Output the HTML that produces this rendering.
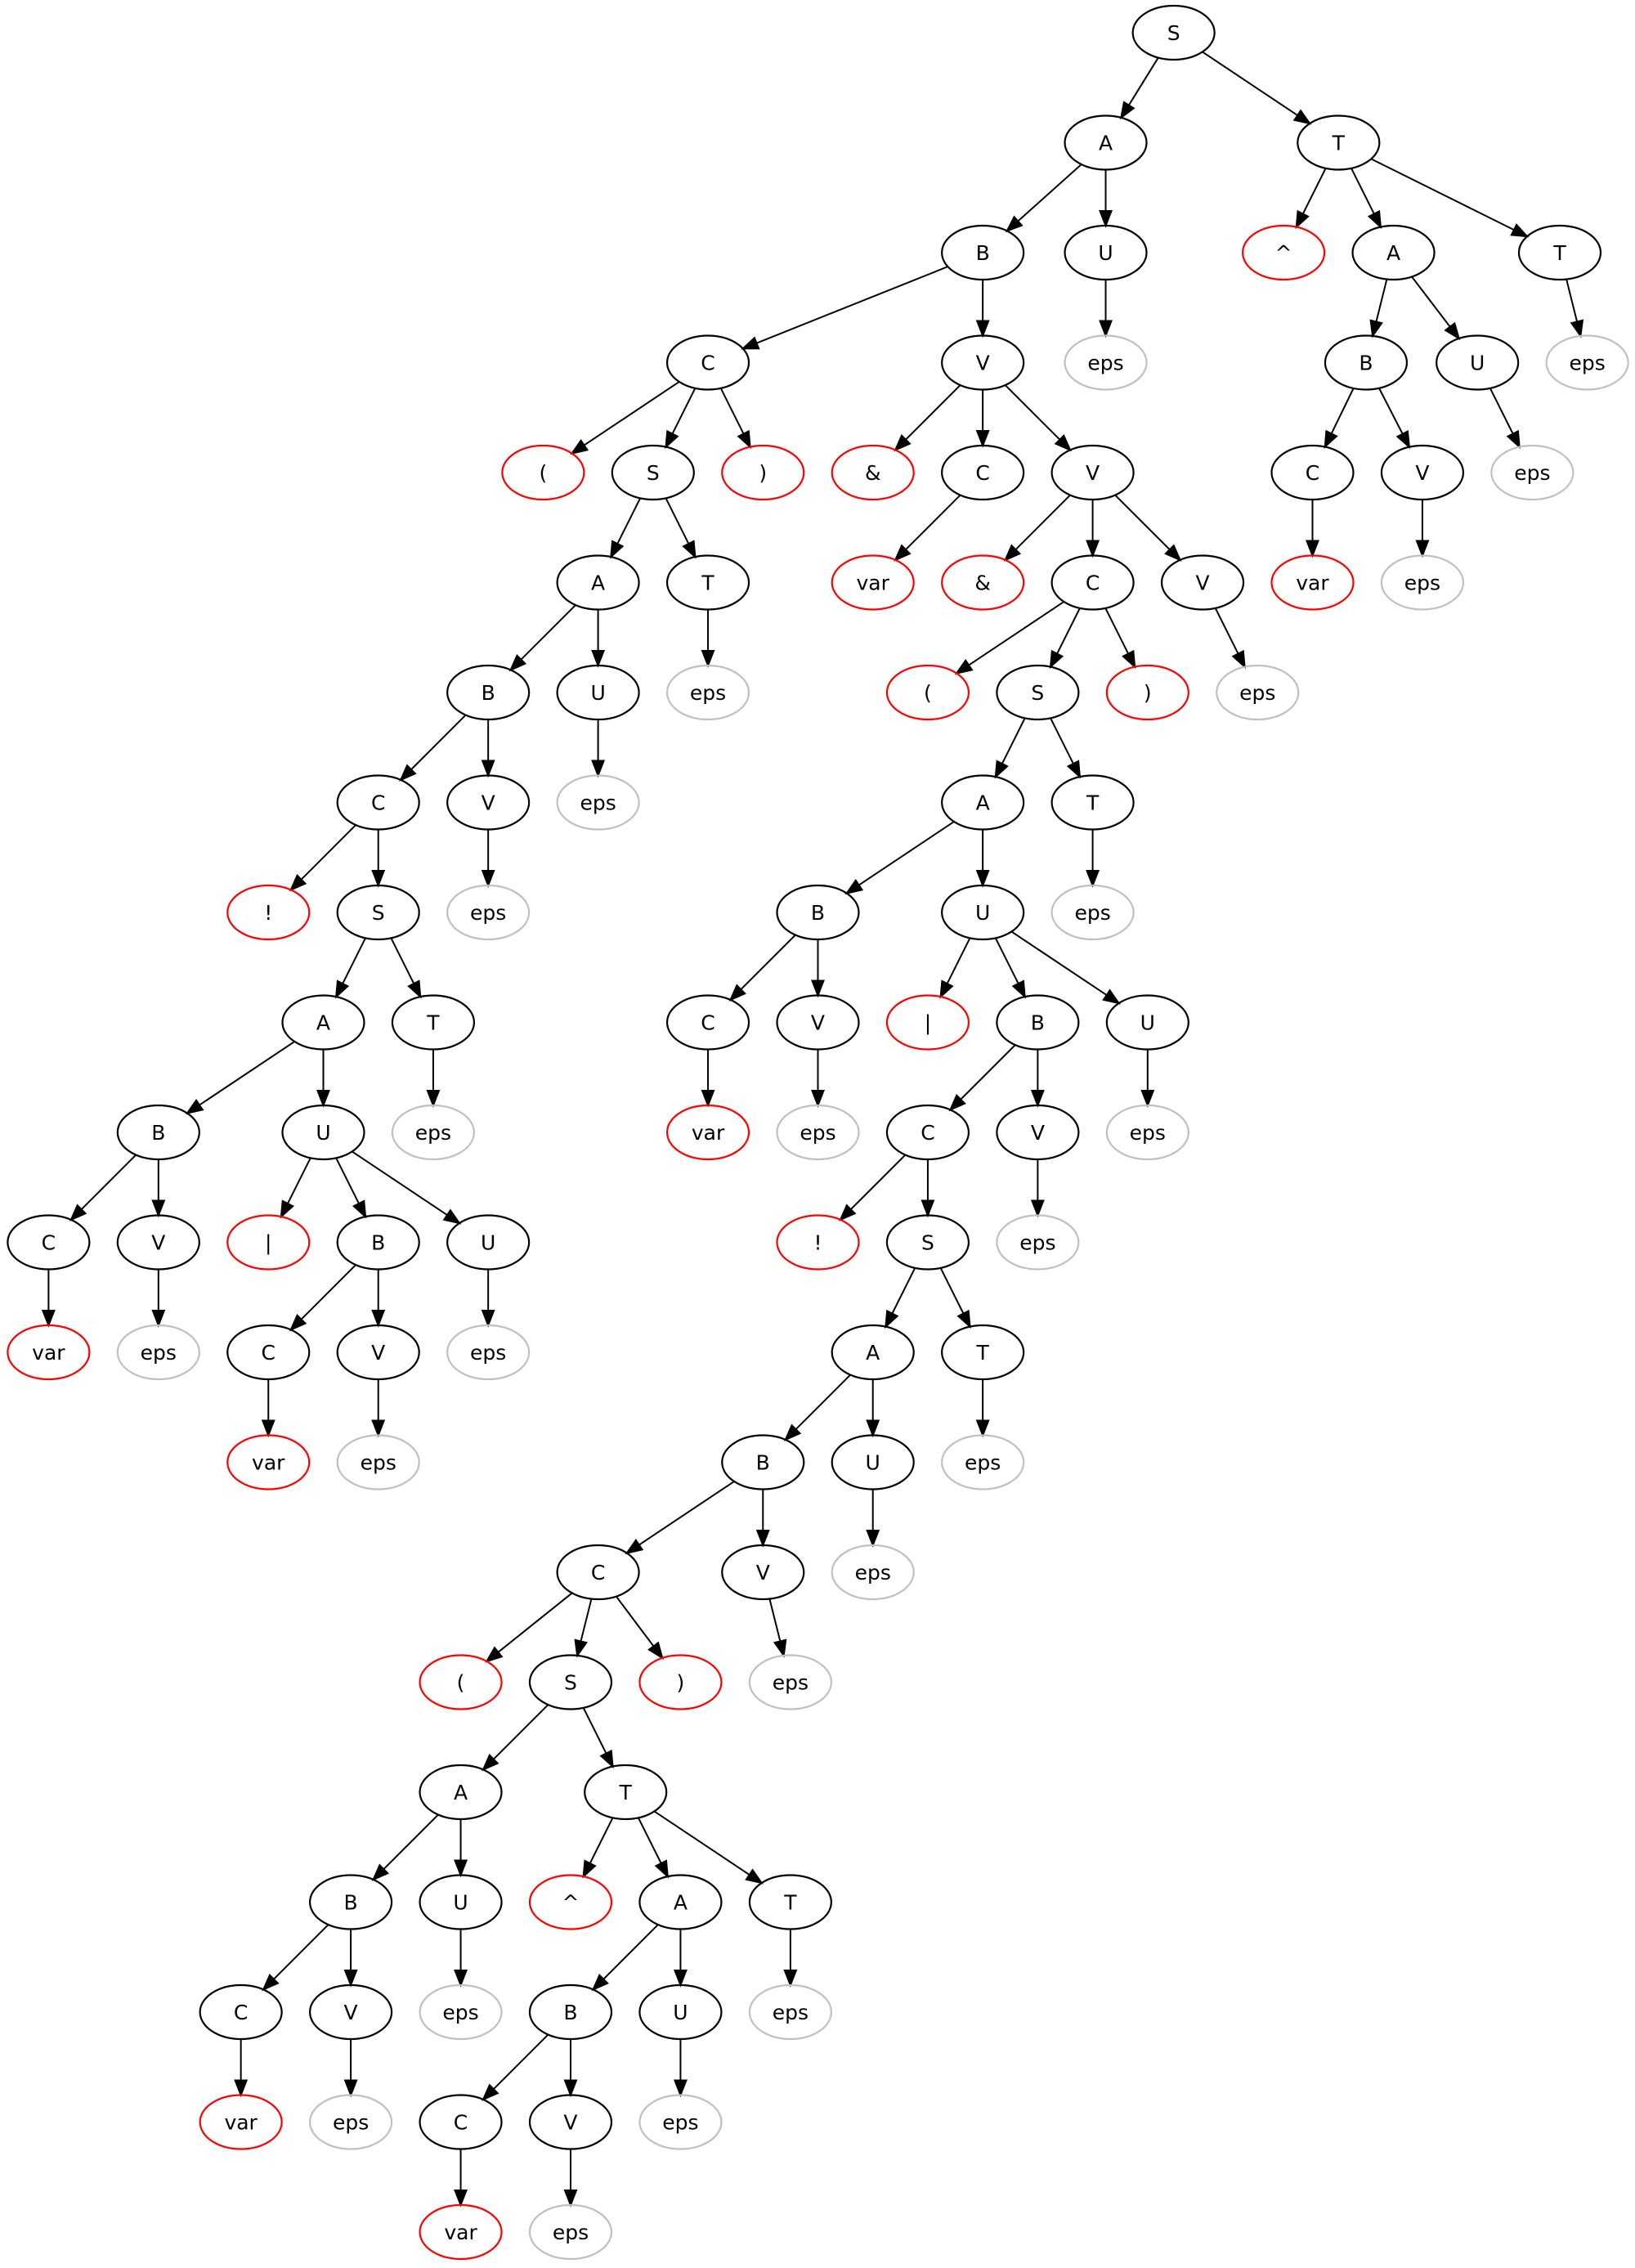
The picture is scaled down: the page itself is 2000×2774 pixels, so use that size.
<!DOCTYPE html>
<html><head><meta charset="utf-8"><style>
html,body{margin:0;padding:0;background:#fff;width:2000px;height:2774px;overflow:hidden}
svg{display:block}
text{font-family:"DejaVu Sans","Liberation Sans",sans-serif;font-size:25px}
</style></head><body>
<svg id="g" width="2000" height="2774" viewBox="0 0 2000 2774" xmlns="http://www.w3.org/2000/svg"></svg>
<script>
// [id, label, displayX, row, type(n/r/g), parentId]
const nodes = [
[0,'S',811,0,'n',-1],
[1,'A',764,1,'n',0],[2,'T',925,1,'n',0],
[3,'B',679,2,'n',1],[4,'U',764,2,'n',1],[5,'^',887,2,'r',2],[6,'A',963,2,'n',2],[7,'T',1078,2,'n',2],
[8,'C',489,3,'n',3],[9,'V',679,3,'n',3],[10,'eps',764,3,'g',4],[11,'B',944,3,'n',6],[12,'U',1021,3,'n',6],[13,'eps',1097,3,'g',7],
[14,'(',375,4,'r',8],[15,'S',451,4,'n',8],[16,')',527,4,'r',8],[17,'&',603,4,'r',9],[18,'C',679,4,'n',9],[19,'V',755,4,'n',9],[20,'C',907,4,'n',11],[21,'V',983,4,'n',11],[22,'eps',1059,4,'g',12],
[23,'A',413,5,'n',15],[24,'T',489,5,'n',15],[25,'var',603,5,'r',18],[26,'&',679,5,'r',19],[27,'C',755,5,'n',19],[28,'V',831,5,'n',19],[29,'var',907,5,'r',20],[30,'eps',983,5,'g',21],
[31,'B',337,6,'n',23],[32,'U',413,6,'n',23],[33,'eps',489,6,'g',24],[34,'(',641,6,'r',27],[35,'S',717,6,'n',27],[36,')',793,6,'r',27],[37,'eps',869,6,'g',28],
[38,'C',261,7,'n',31],[39,'V',337,7,'n',31],[40,'eps',413,7,'g',32],[41,'A',679,7,'n',35],[42,'T',755,7,'n',35],
[43,'!',185,8,'r',38],[44,'S',261,8,'n',38],[45,'eps',337,8,'g',39],[46,'B',565,8,'n',41],[47,'U',679,8,'n',41],[48,'eps',755,8,'g',42],
[49,'A',223,9,'n',44],[50,'T',299,9,'n',44],[51,'C',489,9,'n',46],[52,'V',565,9,'n',46],[53,'|',641,9,'r',47],[54,'B',717,9,'n',47],[55,'U',793,9,'n',47],
[56,'B',109,10,'n',49],[57,'U',223,10,'n',49],[58,'eps',299,10,'g',50],[59,'var',489,10,'r',51],[60,'eps',565,10,'g',52],[61,'C',641,10,'n',54],[62,'V',717,10,'n',54],[63,'eps',793,10,'g',55],
[64,'C',33,11,'n',56],[65,'V',109,11,'n',56],[66,'|',185,11,'r',57],[67,'B',261,11,'n',57],[68,'U',337,11,'n',57],[69,'!',565,11,'r',61],[70,'S',641,11,'n',61],[71,'eps',717,11,'g',62],
[72,'var',33,12,'r',64],[73,'eps',109,12,'g',65],[74,'C',185,12,'n',67],[75,'V',261,12,'n',67],[76,'eps',337,12,'g',68],[77,'A',603,12,'n',70],[78,'T',679,12,'n',70],
[79,'var',185,13,'r',74],[80,'eps',261,13,'g',75],[81,'B',527,13,'n',77],[82,'U',603,13,'n',77],[83,'eps',679,13,'g',78],
[84,'C',413,14,'n',81],[85,'V',527,14,'n',81],[86,'eps',603,14,'g',82],
[87,'(',318,15,'r',84],[88,'S',394,15,'n',84],[89,')',470,15,'r',84],[90,'eps',546,15,'g',85],
[91,'A',318,16,'n',88],[92,'T',432,16,'n',88],
[93,'B',242,17,'n',91],[94,'U',318,17,'n',91],[95,'^',394,17,'r',92],[96,'A',470,17,'n',92],[97,'T',546,17,'n',92],
[98,'C',166,18,'n',93],[99,'V',242,18,'n',93],[100,'eps',318,18,'g',94],[101,'B',394,18,'n',96],[102,'U',470,18,'n',96],[103,'eps',546,18,'g',97],
[104,'var',166,19,'r',98],[105,'eps',242,19,'g',99],[106,'C',318,19,'n',101],[107,'V',394,19,'n',101],[108,'eps',470,19,'g',102],
[109,'var',318,20,'r',106],[110,'eps',394,20,'g',107]
];
const NS='http://www.w3.org/2000/svg';
const svg=document.getElementById('g');
const RX=50, RY=33, AL=18, AW=7;
const X=d=>d*1.769+1, Y=r=>40+r*134.5;
const col={n:'#000',r:'#ff0000',g:'#c0c0c0'};
const byId={};nodes.forEach(n=>byId[n[0]]=n);
function mk(t,a){const e=document.createElementNS(NS,t);for(const k in a)e.setAttribute(k,a[k]);svg.appendChild(e);return e;}
nodes.forEach(n=>{
  if(n[5]<0)return;
  const p=byId[n[5]];
  const x1=X(p[2]),y1=Y(p[3]),x2=X(n[2]),y2=Y(n[3]);
  const dx=x2-x1,dy=y2-y1,L=Math.hypot(dx,dy),ux=dx/L,uy=dy/L;
  const t=1/Math.sqrt((ux/RX)**2+(uy/RY)**2);
  const sx=x1+ux*t,sy=y1+uy*t,ex=x2-ux*t,ey=y2-uy*t;
  const bx=ex-ux*AL,by=ey-uy*AL;
  const l=mk('line',{x1:sx,y1:sy,x2:bx,y2:by,stroke:'#000','stroke-width':2});
  
  
  const a=mk('polygon',{points:`${ex},${ey} ${bx-uy*AW},${by+ux*AW} ${bx+uy*AW},${by-ux*AW}`,fill:'#000',stroke:'#000','stroke-width':2});
  
  
});
nodes.forEach(n=>{
  const cx=X(n[2]),cy=Y(n[3]);
  const e=mk('ellipse',{cx,cy,rx:RX,ry:RY,fill:'none',stroke:col[n[4]],'stroke-width':2.2});
  
  
  const t=mk('text',{x:cx,y:cy+9,'text-anchor':'middle',fill:'#000'});
  t.textContent=n[1];
  
  
});
</script>
</body></html>
